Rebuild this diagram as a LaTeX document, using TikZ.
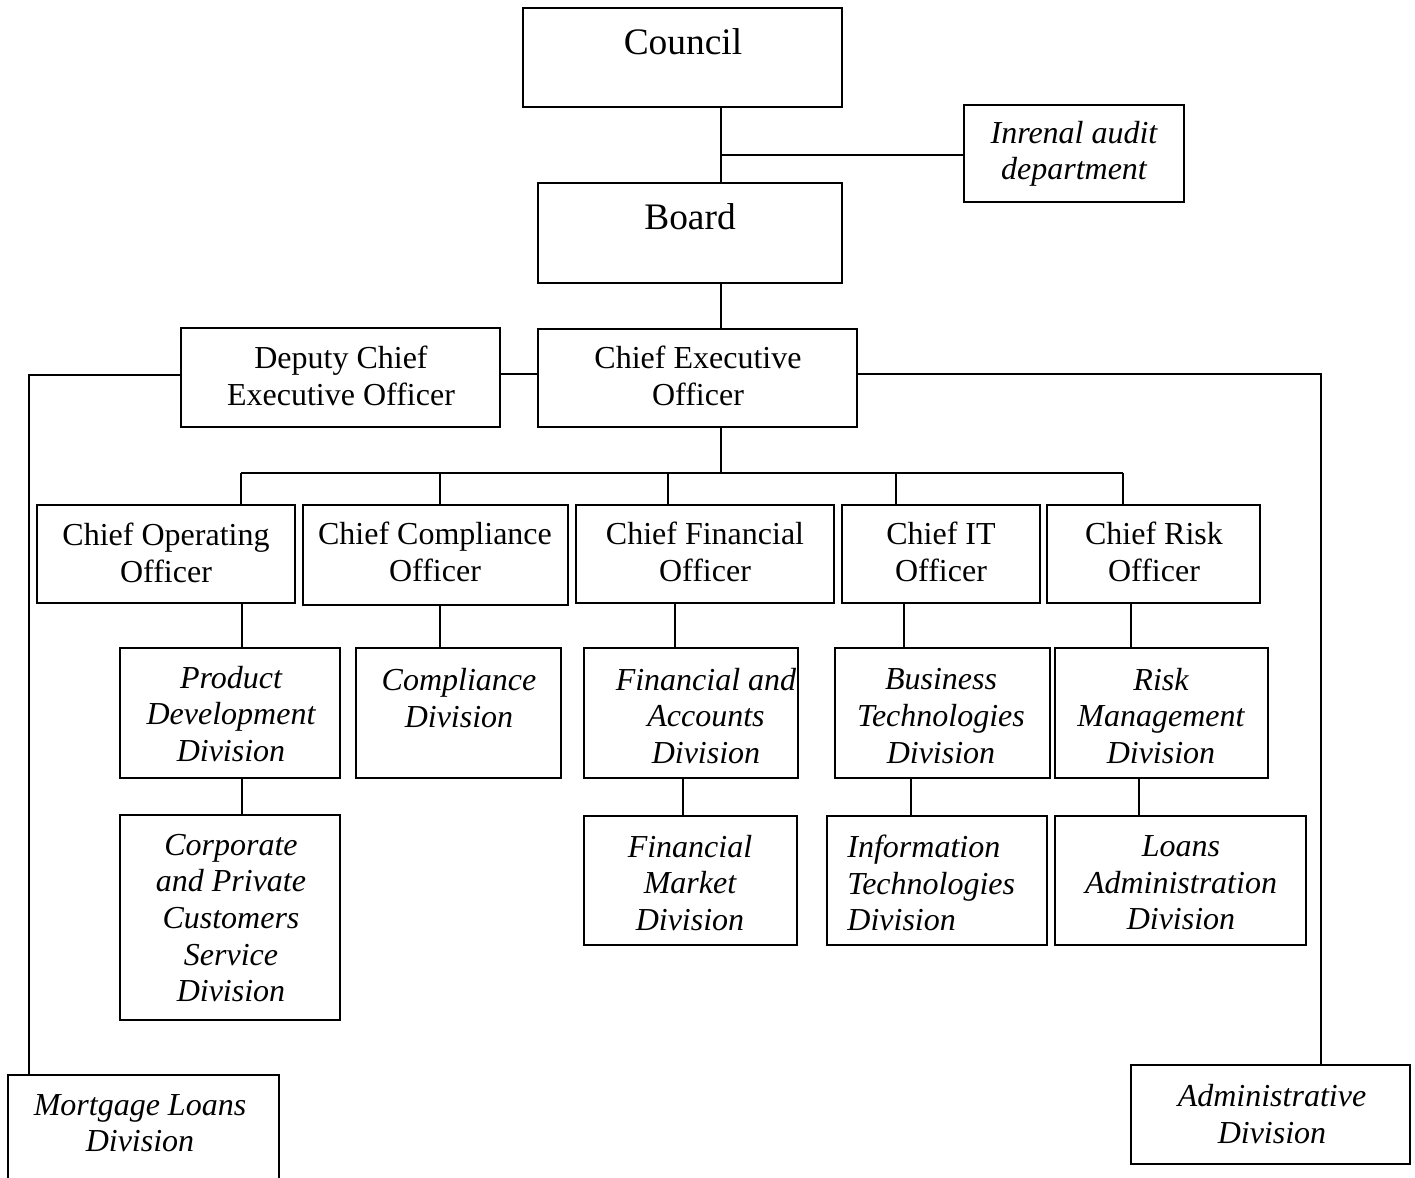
\documentclass[tikz,border=0pt]{standalone}
\usepackage{fontspec}
\usetikzlibrary{fit}
\newfontfamily\upf{Liberation Serif}
\begin{document}
\begin{tikzpicture}[x=0.5pt,y=-0.5pt,
  box/.style={draw, line width=1.1pt, inner sep=0pt, fill=none},
  conn/.style={line width=1.1pt},
  up/.style={font=\upf\fontsize{16}{18.5}\selectfont, align=center, inner sep=0pt},
  big/.style={font=\upf\fontsize{18.7}{22}\selectfont, align=center, inner sep=0pt},
  itl/.style={font=\upf\itshape\fontsize{16}{18.3}\selectfont, align=center, inner sep=0pt}]
\useasboundingbox (0,0) rectangle (1415,1178);
\clip (0,0) rectangle (1415,1178);
\fill[white] (0,0) rectangle (1415,1178);

% boxes
\node[box, fit={(523,8) (842,107)}] (council) {};
\node[box, fit={(964,105) (1184,202)}] (audit) {};
\node[box, fit={(538,183) (842,283)}] (board) {};
\node[box, fit={(181,328) (500,427)}] (deputy) {};
\node[box, fit={(538,329) (857,427)}] (ceo) {};
\node[box, fit={(37,505) (295,603)}] (coo) {};
\node[box, fit={(303,505) (568,605)}] (cco) {};
\node[box, fit={(576,505) (834,603)}] (cfo) {};
\node[box, fit={(842,505) (1040,603)}] (cit) {};
\node[box, fit={(1047,505) (1260,603)}] (cro) {};
\node[box, fit={(120,648) (340,778)}] (pd) {};
\node[box, fit={(356,648) (561,778)}] (cd) {};
\node[box, fit={(584,648) (798,778)}] (fa) {};
\node[box, fit={(835,648) (1050,778)}] (bt) {};
\node[box, fit={(1055,648) (1268,778)}] (rm) {};
\node[box, fit={(120,815) (340,1020)}] (cp) {};
\node[box, fit={(584,816) (797,945)}] (fm) {};
\node[box, fit={(827,816) (1047,945)}] (it) {};
\node[box, fit={(1055,816) (1306,945)}] (la) {};
\node[box, fit={(8,1075) (279,1220)}] (ml) {};
\node[box, fit={(1131,1065) (1410,1164)}] (ad) {};

% texts
\node[big] (council-t) at (683,42) {Council};
\node[itl] (audit-t) at (1074,154) {Inrenal audit\\department};
\node[big] (board-t) at (690,217) {Board};
\node[up] (deputy-t) at (341,376) {Deputy Chief\\Executive Officer};
\node[up] (ceo-t) at (698,376) {Chief Executive\\Officer};
\node[up] (coo-t) at (166,553) {Chief Operating\\Officer};
\node[up] (cco-t) at (435,552) {Chief Compliance\\Officer};
\node[up] (cfo-t) at (705,552) {Chief Financial\\Officer};
\node[up] (cit-t) at (941,552) {Chief IT\\Officer};
\node[up] (cro-t) at (1154,552) {Chief Risk\\Officer};
\node[itl] (pd-t) at (231,714) {Product\\Development\\Division};
\node[itl] (cd-t) at (459,698) {Compliance\\Division};
\node[itl] (fa-t) at (706,716) {Financial and\\Accounts\\Division};
\node[itl] (bt-t) at (941,716) {Business\\Technologies\\Division};
\node[itl] (rm-t) at (1161,716) {Risk\\Management\\Division};
\node[itl] (cp-t) at (231,918) {Corporate\\and Private\\Customers\\Service\\Division};
\node[itl] (fm-t) at (690,883) {Financial\\Market\\Division};
\node[itl, align=left, anchor=west] (it-t) at (847,883) {Information\\Technologies\\Division};
\node[itl] (la-t) at (1181,883) {Loans\\Administration\\Division};
\node[itl] (ml-t) at (140,1123) {Mortgage Loans\\Division};
\node[itl] (ad-t) at (1272,1114) {Administrative\\Division};

% connector helper coordinates
\coordinate (spine) at (721,0);
\coordinate (bus) at (0,473);
\coordinate (j1) at (721,155);
\coordinate (lft) at (29,0);
\coordinate (rgt) at (1321,0);
\coordinate (dl) at (0,375);
\coordinate (cl) at (0,374);

\draw[conn] (spine |- council.south) -- (spine |- board.north);
\draw[conn] (j1) -- (j1 -| audit.west);
\draw[conn] (spine |- board.south) -- (spine |- ceo.north);
\draw[conn] (deputy.east |- cl) -- (ceo.west |- cl);
\draw[conn] (deputy.west |- dl) -- (lft |- dl) -- (lft |- ml.north);
\draw[conn] (ceo.east |- cl) -- (rgt |- cl) -- (rgt |- ad.north);
\draw[conn] (spine |- ceo.south) -- (spine |- bus);
\draw[conn] (241,473) -- (1123,473);
\draw[conn] (241,473) -- (241,0 |- coo.north);
\draw[conn] (440,473) -- (440,0 |- cco.north);
\draw[conn] (668,473) -- (668,0 |- cfo.north);
\draw[conn] (896,473) -- (896,0 |- cit.north);
\draw[conn] (1123,473) -- (1123,0 |- cro.north);

\draw[conn] (242,0 |- coo.south) -- (242,0 |- pd.north);
\draw[conn] (440,0 |- cco.south) -- (440,0 |- cd.north);
\draw[conn] (675,0 |- cfo.south) -- (675,0 |- fa.north);
\draw[conn] (904,0 |- cit.south) -- (904,0 |- bt.north);
\draw[conn] (1131,0 |- cro.south) -- (1131,0 |- rm.north);

\draw[conn] (242,0 |- pd.south) -- (242,0 |- cp.north);
\draw[conn] (683,0 |- fa.south) -- (683,0 |- fm.north);
\draw[conn] (911,0 |- bt.south) -- (911,0 |- it.north);
\draw[conn] (1139,0 |- rm.south) -- (1139,0 |- la.north);
\end{tikzpicture}
\end{document}
